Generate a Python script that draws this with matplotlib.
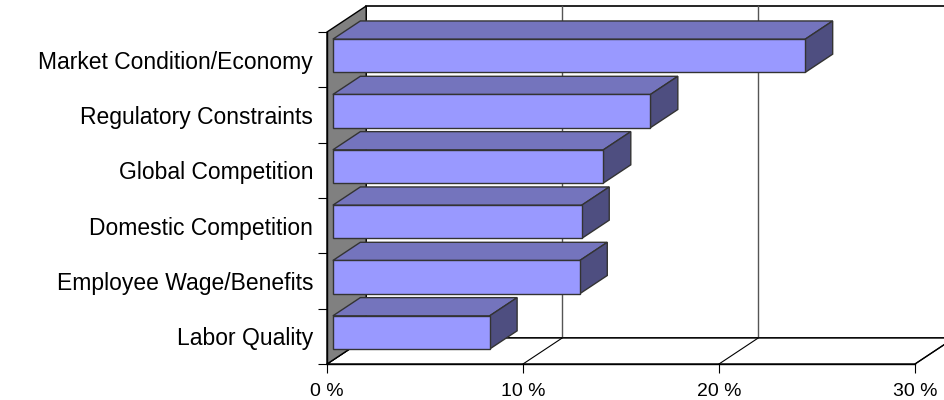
import matplotlib
matplotlib.use("Agg")
import matplotlib.pyplot as plt
from matplotlib.patches import Polygon

categories = [
    "Market Condition/Economy",
    "Regulatory Constraints",
    "Global Competition",
    "Domestic Competition",
    "Employee Wage/Benefits",
    "Labor Quality",
]
shares = [24.1, 16.2, 13.8, 12.7, 12.6, 8.0]
x_ticks = [0, 10, 20, 30]
x_tick_labels = ["0 %", "10 %", "20 %", "30 %"]

plt.rcParams["font.family"] = ["Liberation Sans", "DejaVu Sans"]

fig = plt.figure(figsize=(9.44, 4), dpi=100)
ax = fig.add_axes([327 / 944, 36 / 400, 588 / 944, 332 / 400])
n = len(categories)
xmax = x_ticks[-1]
ax.set_xlim(0, xmax)
ax.set_ylim(0, n)

# depth of the 3-D box in data units, and the slice of it each bar occupies
DX, DY = 2.0, 0.47
D0, D1 = 0.15, 0.85
BAR_H = 0.6

FRONT = "#9999FF"
TOP = "#7474BD"
SIDE = "#4E4E80"
EDGE = "#333333"

# back wall
ax.add_patch(Polygon([(DX, DY), (xmax + DX, DY), (xmax + DX, n + DY), (DX, n + DY)],
                     closed=True, fc="white", ec="black", lw=1.2, clip_on=False, zorder=0))
for t in x_ticks[1:]:
    ax.plot([t + DX, t + DX], [DY, n + DY], color="#555555", lw=1, clip_on=False, zorder=0.5)

# floor
ax.add_patch(Polygon([(0, 0), (xmax, 0), (xmax + DX, DY), (DX, DY)],
                     closed=True, fc="white", ec="black", lw=1, clip_on=False, zorder=1))
for t in x_ticks:
    ax.plot([t, t + DX], [0, DY], color="black", lw=0.8, clip_on=False, zorder=1.2)

# side wall
ax.add_patch(Polygon([(0, 0), (0, n), (DX, n + DY), (DX, DY)],
                     closed=True, fc="#808080", ec="black", lw=1, clip_on=False, zorder=1.5))

# bars: front faces via barh, top and side faces from the same values
centers = [n - 0.5 - i for i in range(n)]
ox, oy = D0 * DX, D0 * DY
ddx, ddy = (D1 - D0) * DX, (D1 - D0) * DY
for i, (c, v) in enumerate(zip(centers, shares)):
    z = 2 + i
    ax.barh(c + oy, v, left=ox, height=BAR_H, color=FRONT, edgecolor=EDGE,
            linewidth=1, zorder=z + 0.2, clip_on=False)
    ybot = c + oy - BAR_H / 2
    ytop = c + oy + BAR_H / 2
    x0, x1 = ox, ox + v
    ax.add_patch(Polygon([(x0, ytop), (x1, ytop), (x1 + ddx, ytop + ddy), (x0 + ddx, ytop + ddy)],
                         closed=True, fc=TOP, ec=EDGE, lw=1, clip_on=False, zorder=z))
    ax.add_patch(Polygon([(x1, ybot), (x1, ytop), (x1 + ddx, ytop + ddy), (x1 + ddx, ybot + ddy)],
                         closed=True, fc=SIDE, ec=EDGE, lw=1, clip_on=False, zorder=z + 0.1))

# axes
ax.set_facecolor("none")
for s in ("top", "right"):
    ax.spines[s].set_visible(False)
for s in ("left", "bottom"):
    ax.spines[s].set_color("black")
    ax.spines[s].set_linewidth(1)
    ax.spines[s].set_zorder(1.6)

ax.set_xticks(x_ticks, x_tick_labels)
ax.tick_params(axis="x", length=6.5, width=0.8, pad=7, labelsize=14, colors="black")
ax.set_yticks(range(n + 1), [""] * (n + 1))
ax.set_yticks(centers, categories, minor=True)
ax.tick_params(axis="y", which="major", length=6.5, width=0.8)
ax.tick_params(axis="y", which="minor", length=0, pad=10, labelsize=16.5)

fig.savefig("out.png", dpi=100)
